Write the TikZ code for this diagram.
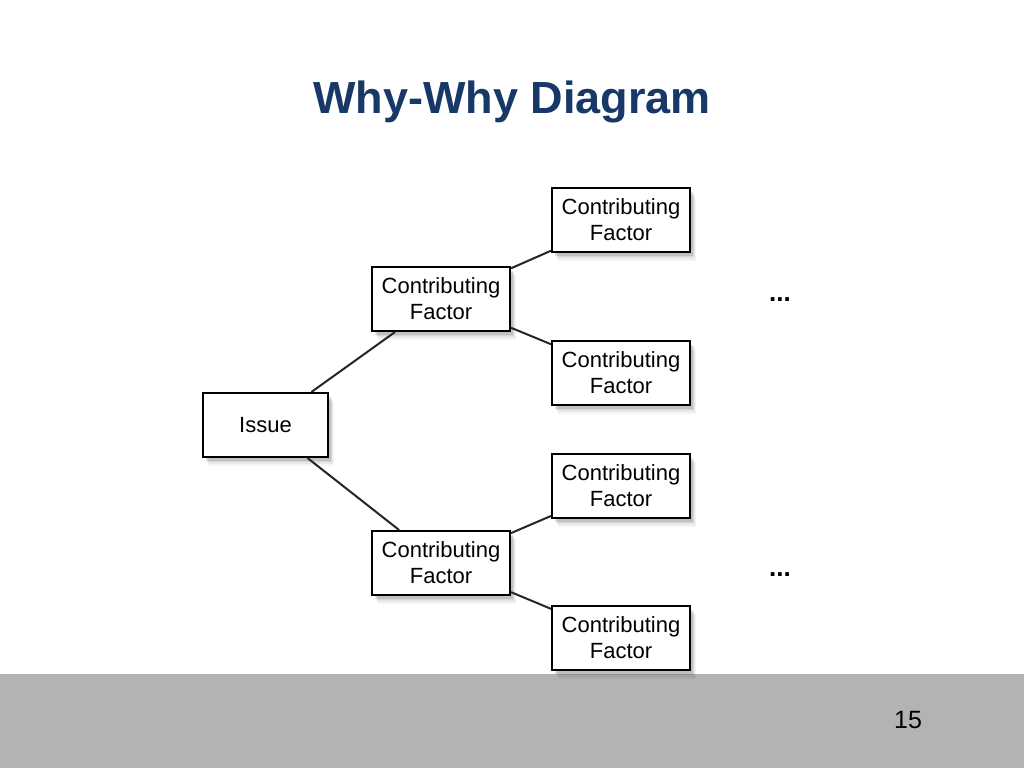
\documentclass[tikz,border=0pt]{standalone}
\usepackage{fontspec}
\setmainfont{Liberation Sans}
\usetikzlibrary{shadows}
\definecolor{titleblue}{RGB}{24,56,104}
\definecolor{bargray}{RGB}{179,179,179}
\tikzset{
  box/.style={draw=black, line width=2pt, fill=white, align=center, inner sep=0pt,
    font=\fontsize{22}{26}\selectfont,
    general shadow={fill=black, opacity=.04, shadow xshift=6pt, shadow yshift=-9pt},
    general shadow={fill=black, opacity=.05, shadow xshift=5pt, shadow yshift=-7pt},
    general shadow={fill=black, opacity=.07, shadow xshift=4pt, shadow yshift=-5pt},
    general shadow={fill=black, opacity=.10, shadow xshift=3pt, shadow yshift=-4pt}},
  cfbox/.style={box, minimum width=138pt, minimum height=64pt},
  link/.style={draw=black!85, line width=2pt},
  dots/.style={font=\bfseries\fontsize{26}{26}\selectfont, anchor=base}
}
\begin{document}
\begin{tikzpicture}[x=1pt,y=-1pt]
\useasboundingbox (0,0) rectangle (1024,768);
\fill[white] (0,0) rectangle (1024,768);
\fill[bargray] (0,674) rectangle (1024,768);
\node[anchor=base, text=titleblue, font=\bfseries\fontsize{45}{45}\selectfont] (title) at (512,113) {Why-Why Diagram};
\node[anchor=base, font=\fontsize{25}{25}\selectfont] (page) at (908,728) {15};

\node[box, minimum width=125pt, minimum height=64pt] (issue) at (265.5,425) {Issue};
\node[cfbox] (m1) at (441,299) {Contributing\\Factor};
\node[cfbox] (m2) at (441,563) {Contributing\\Factor};
\node[cfbox] (r1) at (621,220) {Contributing\\Factor};
\node[cfbox] (r2) at (621,373) {Contributing\\Factor};
\node[cfbox] (r3) at (621,486) {Contributing\\Factor};
\node[cfbox] (r4) at (621,638) {Contributing\\Factor};

\draw[link] (issue) -- (m1);
\draw[link] (issue) -- (m2);
\draw[link] (m1) -- (r1);
\draw[link] (m1) -- (r2);
\draw[link] (m2) -- (r3);
\draw[link] (m2) -- (r4);

\node[dots] (d1) at (780,301) {...};
\node[dots] (d2) at (780,576) {...};
\end{tikzpicture}
\end{document}
